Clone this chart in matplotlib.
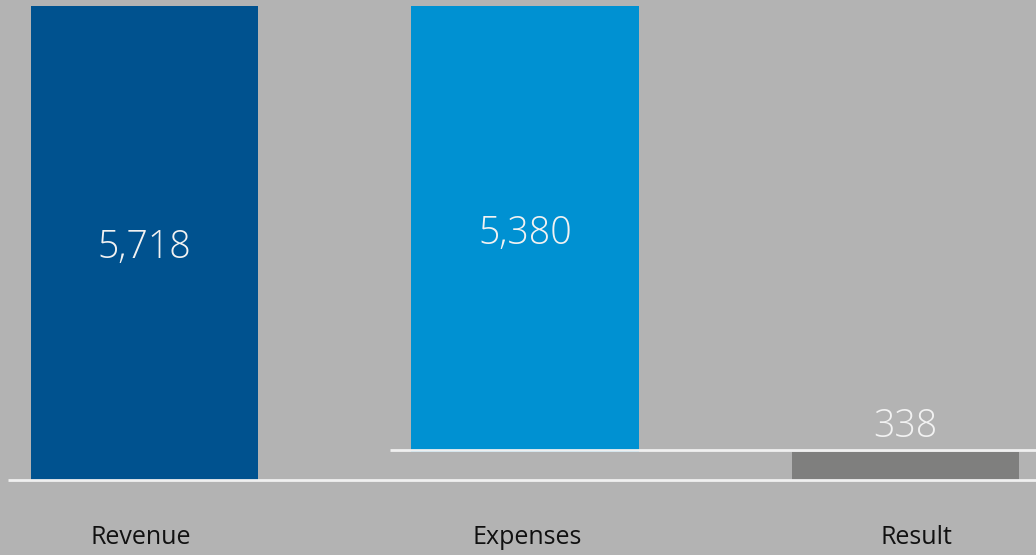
import matplotlib
matplotlib.use("Agg")
import matplotlib.pyplot as plt

categories = ["Revenue", "Expenses", "Result"]
values = [5718, 5380, 338]
value_labels = ["5,718", "5,380", "338"]

revenue, expenses, result = values
# waterfall: expenses hang from the revenue level down to the result
bottoms = [0, result, 0]
heights = [revenue, expenses, result]
colors = ["#00528f", "#0091d2", "#7f7f7e"]

bg = "#b3b3b3"
plt.rcParams["font.family"] = ["Open Sans", "DejaVu Sans"]

fig = plt.figure(figsize=(10.36, 5.55), dpi=100, facecolor=bg)
ax = fig.add_axes([0, 0, 1, 1])
ax.set_facecolor(bg)

x = list(range(len(categories)))
ax.bar(x, heights, bottom=bottoms, width=0.597, color=colors, zorder=2)

ax.set_xlim(-0.38, 2.343)
ax.set_ylim(-906, 5796)

# baselines
ax.plot([-0.359, 2.343], [0, 0], color="#f0f0f0", lw=2, zorder=3, solid_capstyle="butt")
ax.plot([0.645, 2.343], [result + 25, result + 25], color="#f0f0f0", lw=2, zorder=3,
        solid_capstyle="butt")

# value labels
for i in range(2):
    ax.text(x[i], bottoms[i] + heights[i] / 2 - 60, value_labels[i], ha="center", va="center",
            color="#f2f2f2", fontsize=27, fontweight="light")
ax.text(x[2], result + 310, value_labels[2], ha="center", va="center",
        color="#f2f2f2", fontsize=27, fontweight="light")

# category labels
label_shift = [-0.01, 0.005, 0.03]
for i, c in enumerate(categories):
    ax.text(x[i] + label_shift[i], -690, c, ha="center", va="center", color="#111111",
            fontsize=18)

ax.axis("off")
fig.savefig("out.png", dpi=100, facecolor=bg)
